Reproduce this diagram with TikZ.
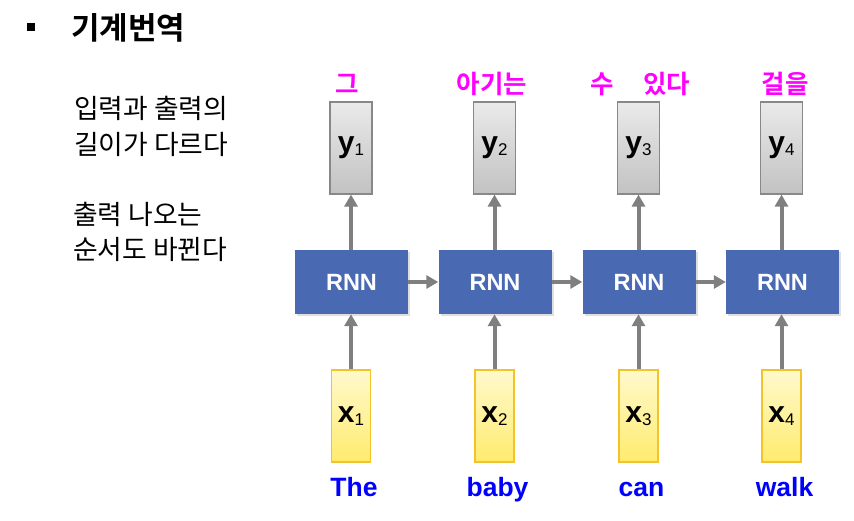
\documentclass[tikz,border=0pt]{standalone}
\usepackage{fontspec}
\setmainfont{Liberation Sans}
\newfontfamily\kr[BoldFont={Noto Sans CJK KR Bold}]{Noto Sans CJK KR}
\usetikzlibrary{arrows.meta,shadows}
\definecolor{rnnblue}{HTML}{4A69B3}
\definecolor{arrgray}{HTML}{7F7F7F}
\definecolor{magentatxt}{HTML}{FF00FF}
\definecolor{bluetxt}{HTML}{0000FF}
\definecolor{ytop}{HTML}{FFF9CC}
\definecolor{ybot}{HTML}{FFEB6E}
\definecolor{yedge}{HTML}{F2C42A}
\definecolor{gtop}{HTML}{EAEAEA}
\definecolor{gbot}{HTML}{C2C2C2}
\definecolor{gedge}{HTML}{888888}
\tikzset{
  ybox/.style={draw=gedge, line width=1.2pt, top color=gtop, bottom color=gbot, minimum width=42pt, minimum height=92pt, inner sep=0pt},
  xbox/.style={draw=yedge, line width=1.2pt, top color=ytop, bottom color=ybot, minimum width=39pt, minimum height=92pt, inner sep=0pt},
  rnnbox/.style={fill=rnnblue, minimum width=113pt, minimum height=64pt, inner sep=0pt, text=white, font=\bfseries\fontsize{23.5}{25}\selectfont, drop shadow={opacity=0.25, shadow xshift=2pt, shadow yshift=-2pt}},
  flow/.style={draw=arrgray, line width=4pt, -{Triangle[length=12pt,width=13pt]}},
  outlbl/.style={anchor=base, text=magentatxt, font=\kr\bfseries\fontsize{25.5}{27}\selectfont},
  inlbl/.style={anchor=base, text=bluetxt, font=\bfseries\fontsize{26.5}{28}\selectfont},
  vlbl/.style={font=\bfseries\fontsize{30}{32}\selectfont},
  side/.style={anchor=west, font=\kr\fontsize{26.8}{28}\selectfont, inner sep=0pt}
}
\newcommand{\sbs}[1]{\raisebox{-3pt}{\mdseries\fontsize{17}{18}\selectfont #1}}
\begin{document}
\begin{tikzpicture}[x=1pt,y=-1pt]
\useasboundingbox (0,0) rectangle (854,521);
\fill (27,23) rectangle (35,31);
\node[anchor=west, inner sep=0pt, font=\kr\bfseries\fontsize{31}{33}\selectfont] (title) at (71,28) {기계번역};

\node[side] (s1) at (74,108) {입력과 출력의};
\node[side] (s2) at (74,144) {길이가 다르다};
\node[side] (s3) at (73,214) {출력 나오는};
\node[side] (s4) at (73,249) {순서도 바뀐다};

\foreach \i/\cx/\rx/\en/\ko/\ox in {1/351/351.5/The/그/347, 2/494.5/495/baby/아기는/492, 3/638.5/639/can/{수\hspace{29pt}있다}/640.5, 4/781.5/782.5/walk/걸을/785} {
  \node[ybox] (y\i) at (\cx,148) {};
  \node[vlbl] at (y\i) {y\sbs{\i}};
  \node[rnnbox] (r\i) at (\rx,282) {RNN};
  \node[xbox] (x\i) at (\cx,416) {};
  \node[vlbl] at (x\i) {x\sbs{\i}};
  \node[outlbl] (o\i) at (\ox,94) {\ko};
  \node[inlbl] (w\i) at (\cx+3,496) {\en};
  \draw[flow] (x\i.north) -- (x\i.north |- r\i.south);
  \draw[flow] (y\i.south |- r\i.north) -- (y\i.south);
}
\foreach \a/\b in {1/2,2/3,3/4} {
  \draw[flow] (r\a.east) -- (r\b.west);
}
\end{tikzpicture}
\end{document}
